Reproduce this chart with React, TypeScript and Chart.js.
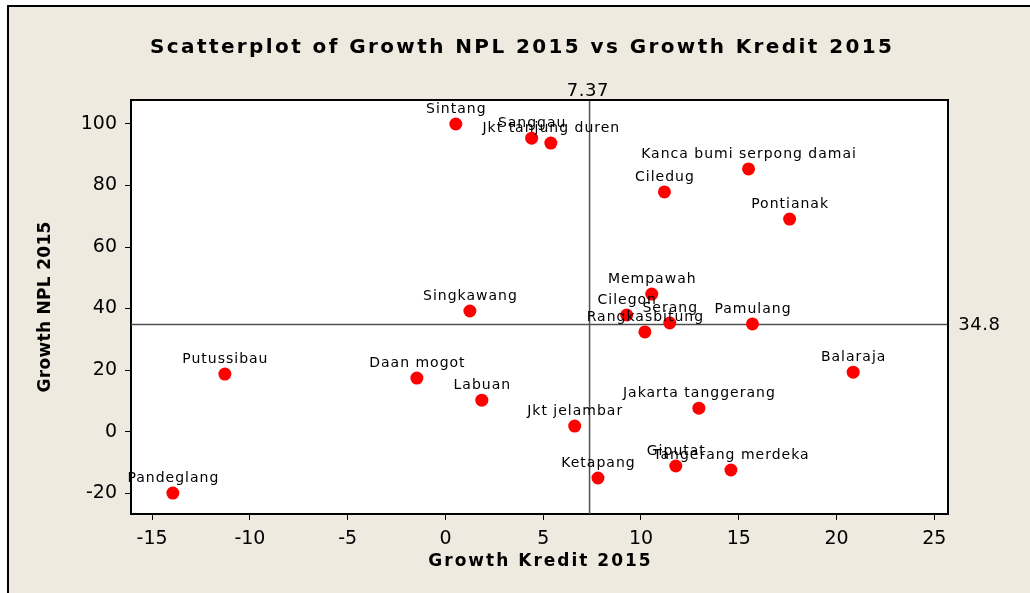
import React, { useEffect, useRef } from "react";
import { Chart, registerables } from "chart.js";

Chart.register(...registerables);

const names = [
  "Sintang", "Sanggau", "Jkt tanjung duren", "Kanca bumi serpong damai", "Ciledug",
  "Pontianak", "Mempawah", "Singkawang", "Cilegon", "Serang", "Rangkasbitung",
  "Pamulang", "Putussibau", "Daan mogot", "Balaraja", "Labuan", "Jakarta tanggerang",
  "Jkt jelambar", "Giputat", "Tangerang merdeka", "Ketapang", "Pandeglang",
];
const growthKredit = [
  0.53, 4.41, 5.39, 15.5, 11.2, 17.6, 10.55, 1.25, 9.27, 11.47, 10.2,
  15.7, -11.28, -1.46, 20.85, 1.86, 12.96, 6.61, 11.78, 14.6, 7.8, -13.94,
];
const growthNPL = [
  100, 95.4, 93.8, 85.4, 77.9, 69.1, 44.7, 39.2, 37.9, 35.3, 32.4,
  35.0, 18.7, 17.4, 19.3, 10.2, 7.6, 1.8, -11.2, -12.5, -15.1, -20.0,
];
const refX = 7.37;
const refY = 34.8;
const xTicks = [-15, -10, -5, 0, 5, 10, 15, 20, 25];
const yTicks = [-20, 0, 20, 40, 60, 80, 100];
const titleText = "Scatterplot of Growth NPL 2015 vs Growth Kredit 2015";
const xTitle = "Growth Kredit 2015";
const yTitle = "Growth NPL 2015";

const BEIGE = "#EEEAE0";
const FONT = "'DejaVu Sans', Verdana, sans-serif";

function spacedText(ctx: CanvasRenderingContext2D, text: string, x: number, y: number, spacing: number) {
  (ctx as any).letterSpacing = spacing + "px";
  ctx.fillText(text, x + spacing / 2, y);
  (ctx as any).letterSpacing = "0px";
}

const decorPlugin = {
  id: "decor",
  beforeDraw(chart: any) {
    const ctx = chart.ctx as CanvasRenderingContext2D;
    const { width, height, chartArea } = chart;
    ctx.save();
    ctx.fillStyle = "#ffffff";
    ctx.fillRect(0, 0, width, height);
    ctx.fillStyle = BEIGE;
    ctx.fillRect(7, 5, width - 7, height - 5);
    ctx.fillStyle = "#000000";
    ctx.fillRect(7, 5, 2, height - 5);
    ctx.fillRect(7, 5, width - 7, 2);
    ctx.fillStyle = "#ffffff";
    ctx.fillRect(chartArea.left, chartArea.top, chartArea.right - chartArea.left, chartArea.bottom - chartArea.top);
    ctx.restore();
  },
  beforeDatasetsDraw(chart: any) {
    const ctx = chart.ctx as CanvasRenderingContext2D;
    const { chartArea } = chart;
    const xs = chart.scales.x;
    const ys = chart.scales.y;
    const px = xs.getPixelForValue(refX);
    const py = ys.getPixelForValue(refY);
    ctx.save();
    ctx.strokeStyle = "#505050";
    ctx.lineWidth = 1.5;
    ctx.beginPath();
    ctx.moveTo(px, chartArea.top);
    ctx.lineTo(px, chartArea.bottom);
    ctx.moveTo(chartArea.left, py);
    ctx.lineTo(chartArea.right, py);
    ctx.stroke();
    ctx.strokeStyle = "#000000";
    ctx.lineWidth = 2;
    ctx.beginPath();
    ctx.moveTo(chartArea.left, chartArea.top);
    ctx.lineTo(chartArea.right, chartArea.top);
    ctx.lineTo(chartArea.right, chartArea.bottom);
    ctx.stroke();
    ctx.restore();
  },
  afterDatasetsDraw(chart: any) {
    const ctx = chart.ctx as CanvasRenderingContext2D;
    const { chartArea } = chart;
    const xs = chart.scales.x;
    const ys = chart.scales.y;
    ctx.save();
    ctx.fillStyle = "#000000";
    ctx.textAlign = "center";
    ctx.textBaseline = "middle";
    ctx.font = `14px ${FONT}`;
    names.forEach((n, i) => {
      const px = xs.getPixelForValue(growthKredit[i]);
      const py = ys.getPixelForValue(growthNPL[i]);
      spacedText(ctx, n, px, py - 15, 1);
    });
    // reference line labels
    ctx.font = `18px ${FONT}`;
    ctx.textAlign = "center";
    ctx.textBaseline = "alphabetic";
    spacedText(ctx, String(refX), xs.getPixelForValue(refX) - 2, chartArea.top - 4, 0.5);
    ctx.textAlign = "left";
    ctx.textBaseline = "middle";
    spacedText(ctx, String(refY), chartArea.right + 10, ys.getPixelForValue(refY) + 1, 0.5);
    // title
    ctx.font = `bold 20px ${FONT}`;
    ctx.textAlign = "center";
    ctx.textBaseline = "middle";
    spacedText(ctx, titleText, 521, 48, 2.4);
    // axis titles
    ctx.font = `bold 17px ${FONT}`;
    spacedText(ctx, xTitle, (chartArea.left + chartArea.right) / 2, 562, 2);
    ctx.translate(46, (chartArea.top + chartArea.bottom) / 2);
    ctx.rotate(-Math.PI / 2);
    spacedText(ctx, yTitle, 0, 0, 0.3);
    ctx.restore();
  },
};

export default function App() {
  const ref = useRef<HTMLCanvasElement | null>(null);
  useEffect(() => {
    if (!ref.current) return;
    const chart = new Chart(ref.current, {
      type: "scatter",
      data: {
        datasets: [
          {
            label: "points",
            data: growthKredit.map((x, i) => ({ x, y: growthNPL[i] })),
            backgroundColor: "#FF0000",
            borderColor: "#FF0000",
            borderWidth: 0,
            pointRadius: 6.5,
            pointHoverRadius: 6.5,
          },
        ],
      },
      options: {
        animation: false,
        responsive: false,
        devicePixelRatio: 1,
        layout: { padding: { left: 0, top: 100, right: 82, bottom: 0 } },
        plugins: { legend: { display: false }, tooltip: { enabled: false }, title: { display: false } },
        scales: {
          x: {
            type: "linear",
            min: -16.08,
            max: 25.7,
            afterFit: (s: any) => { s.height = 79; },
            afterBuildTicks: (s: any) => { s.ticks = xTicks.map((v) => ({ value: v })); },
            ticks: { includeBounds: false, color: "#000", font: { size: 19, family: FONT }, padding: 8, maxRotation: 0, autoSkip: false },
            grid: { display: true, drawOnChartArea: false, drawTicks: true, tickLength: 6, color: "#000", lineWidth: 1 },
            border: { display: true, color: "#000", width: 2 },
          },
          y: {
            type: "linear",
            min: -26.8,
            max: 107.8,
            afterFit: (s: any) => { s.width = 131; },
            afterBuildTicks: (s: any) => { s.ticks = yTicks.map((v) => ({ value: v })); },
            ticks: { includeBounds: false, color: "#000", font: { size: 19, family: FONT }, padding: 8, autoSkip: false },
            grid: { display: true, drawOnChartArea: false, drawTicks: true, tickLength: 6, color: "#000", lineWidth: 1 },
            border: { display: true, color: "#000", width: 2 },
          },
        },
      },
      plugins: [decorPlugin],
    } as any);
    return () => chart.destroy();
  }, []);
  return (
    <div style={{ position: "fixed", left: 0, top: 0, width: 1030, height: 593 }}>
      <canvas ref={ref} width={1030} height={593} style={{ display: "block", width: 1030, height: 593 }} />
    </div>
  );
}
